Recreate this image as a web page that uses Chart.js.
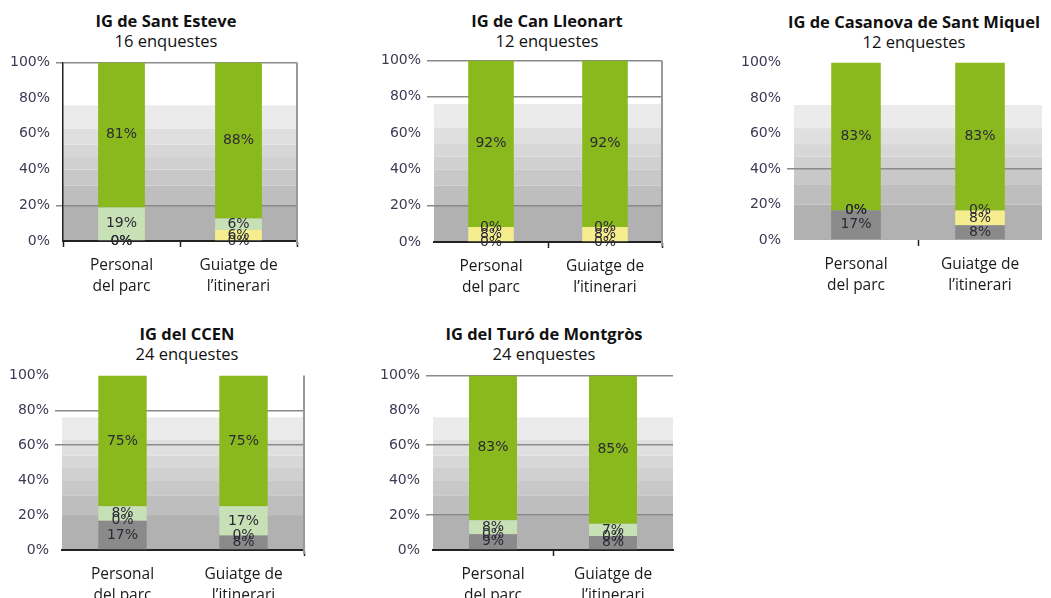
<!DOCTYPE html>
<html>
<head>
<meta charset="utf-8">
<script src="https://cdn.jsdelivr.net/npm/chart.js@4.4.1/dist/chart.umd.min.js"></script>
<style>
  body { margin: 0; background: #fff; overflow: hidden; }
  #page { position: relative; width: 1051px; height: 598px; }
  .titol { position: absolute; width: 320px; text-align: center; font-family: 'Open Sans', sans-serif; font-size: 16.5px; line-height: 20px; color: #111; }
  .titol b { font-weight: 700; }
  canvas { position: absolute; }
</style>
</head>
<body>
<div id="page"></div>
<script>
// DADES
const categories = [['Personal', 'del parc'], ['Guiatge de', 'l\u2019itinerari']];
const titols = ['IG de Sant Esteve', 'IG de Can Lleonart', 'IG de Casanova de Sant Miquel', 'IG del CCEN', 'IG del Tur\u00f3 de Montgr\u00f2s'];
const enquestes = [16, 12, 12, 24, 24];
const yTicks = [0, 20, 40, 60, 80, 100];

// cada sèrie: [Personal del parc, Guiatge de l'itinerari] -> gris, groc, verd clar, verd
const santEsteve = [[0, 0], [0, 6.3], [18.8, 6.3], [81.3, 87.5]];
const canLleonart = [[0, 0], [8.3, 8.3], [0, 0], [91.7, 91.7]];
const casanova = [[16.7, 8.3], [0, 8.3], [0, 0], [83.3, 83.3]];
const ccen = [[16.7, 8.3], [0, 0], [8.3, 16.7], [75, 75]];
const montgros = [[9, 8], [0, 0], [8, 7], [83, 85]];

const series = ['Dolenta', 'Regular', 'Bona', 'Molt bona'];
const colors = ['#8a8a8a', '#f6ee8e', '#c8e0b6', '#8ab91e'];

// posició de cada gràfic a la pàgina (àrea de dibuix)
const caixes = [
    { dades: santEsteve, plot: [63, 60, 297, 241], titolX: 166, titolY: 11, linies: [100, 20], eixY: true, vora: true, baseX: true, marquesX: [0, 1, 2] },
    { dades: canLleonart, plot: [434, 58, 662, 242], titolX: 547, titolY: 11, linies: [100, 80, 20], eixY: false, vora: true, baseX: true, marquesX: [1, 2] },
    { dades: casanova, plot: [794, 60, 1042, 240], titolX: 914, titolY: 12, linies: [40], eixY: false, vora: false, baseX: false, marquesX: [1] },
    { dades: ccen, plot: [62, 373, 304, 550], titolX: 187, titolY: 324, linies: [80, 60], eixY: false, vora: true, baseX: true, marquesX: [2] },
    { dades: montgros, plot: [433, 373, 673, 550], titolX: 544, titolY: 324, linies: [100, 60, 20], eixY: false, vora: false, baseX: true, marquesX: [1] }
];

// bandes grises del fons (decoració)
const bandes = [[0, 20, '#b1b1b1'], [20, 31, '#bebebe'], [31, 40, '#c8c8c8'], [40, 47, '#d0d0d0'], [47, 54, '#d7d7d7'], [54, 63, '#dfdfdf'], [63, 76, '#ebebeb']];

Chart.defaults.font.family = 'DejaVu Sans';

const fonsPlugin = {
    id: 'fons',
    beforeDraw(chart) {
        const { ctx, chartArea: a, scales: { y } } = chart;
        ctx.save();
        bandes.forEach(([de, fins, color]) => {
            const y0 = y.getPixelForValue(de);
            const y1 = y.getPixelForValue(fins);
            ctx.fillStyle = color;
            ctx.fillRect(a.left, y1, a.right - a.left, y0 - y1);
        });
        ctx.restore();
    }
};

const voraPlugin = {
    id: 'vora',
    afterDraw(chart, args, opts) {
        if (!opts.mostra) return;
        const { ctx, chartArea: a } = chart;
        ctx.save();
        ctx.strokeStyle = '#999';
        ctx.lineWidth = 2;
        ctx.beginPath();
        ctx.moveTo(a.right, a.top);
        ctx.lineTo(a.right, a.bottom + 4);
        ctx.stroke();
        ctx.restore();
    }
};

// etiquetes de percentatge dins les barres
const etiquetesPlugin = {
    id: 'etiquetes',
    afterDatasetsDraw(chart) {
        const ctx = chart.ctx;
        ctx.save();
        ctx.font = '14px "DejaVu Sans"';
        ctx.textAlign = 'center';
        ctx.textBaseline = 'middle';
        ctx.fillStyle = '#2a2a35';
        chart.data.datasets.forEach((ds, i) => {
            chart.getDatasetMeta(i).data.forEach((bar, j) => {
                const y = (bar.y + bar.base) / 2;
                ctx.fillText(Math.round(ds.data[j]) + '%', bar.x, y);
            });
        });
        ctx.restore();
    }
};

const page = document.getElementById('page');

caixes.forEach((c, k) => {
    const [pl, pt, pr, pb] = c.plot;
    const ampleY = 60, padTop = 12, padRight = 4, altX = 56;

    const t = document.createElement('div');
    t.className = 'titol';
    t.style.left = (c.titolX - 160) + 'px';
    t.style.top = c.titolY + 'px';
    t.innerHTML = '<b>' + titols[k] + '</b><br>' + enquestes[k] + ' enquestes';
    page.appendChild(t);

    const canvas = document.createElement('canvas');
    canvas.width = pr - pl + ampleY + padRight;
    canvas.height = pb - pt + padTop + altX;
    canvas.style.left = (pl - ampleY) + 'px';
    canvas.style.top = (pt - padTop) + 'px';
    page.appendChild(canvas);

    const colorLinia = v => c.linies.includes(v) ? '#8a8a8a' : 'rgba(0,0,0,0)';

    new Chart(canvas.getContext('2d'), {
        type: 'bar',
        data: {
            labels: categories,
            datasets: series.map((nom, i) => ({
                label: nom,
                data: c.dades[i],
                backgroundColor: colors[i],
                borderWidth: 0,
                categoryPercentage: 1,
                barPercentage: 0.4
            }))
        },
        plugins: [fonsPlugin, voraPlugin, etiquetesPlugin],
        options: {
            responsive: false,
            animation: false,
            layout: { padding: { top: padTop, right: padRight, left: 0, bottom: 0 } },
            plugins: {
                legend: { display: false },
                tooltip: { enabled: false },
                vora: { mostra: c.vora }
            },
            scales: {
                x: {
                    stacked: true,
                    afterFit: axis => { axis.height = altX; },
                    border: { display: c.baseX, color: '#222', width: 2 },
                    grid: {
                        offset: true,
                        drawOnChartArea: false,
                        drawTicks: true,
                        tickLength: 6,
                        tickWidth: 1.5,
                        tickColor: ctx => {
                            const idx = ctx.index === undefined ? 2 : ctx.index;
                            return c.marquesX.includes(idx) ? '#222' : 'rgba(0,0,0,0)';
                        }
                    },
                    ticks: {
                        padding: 9,
                        color: '#1a1a1a',
                        font: { family: "'Open Sans'", size: 15.5, lineHeight: 1.3 }
                    }
                },
                y: {
                    stacked: true,
                    min: 0,
                    max: 100,
                    afterFit: axis => { axis.width = ampleY; },
                    afterBuildTicks: axis => { axis.ticks = yTicks.map(v => ({ value: v })); },
                    border: { display: c.eixY, color: '#222', width: 1.5 },
                    grid: {
                        lineWidth: 1.5,
                        tickLength: 7,
                        color: ctx => colorLinia(ctx.tick.value),
                        tickColor: ctx => colorLinia(ctx.tick.value)
                    },
                    ticks: {
                        padding: 6,
                        color: '#3a3a55',
                        font: { size: 14 },
                        callback: v => v + '%'
                    }
                }
            }
        }
    });
});
</script>
</body>
</html>
